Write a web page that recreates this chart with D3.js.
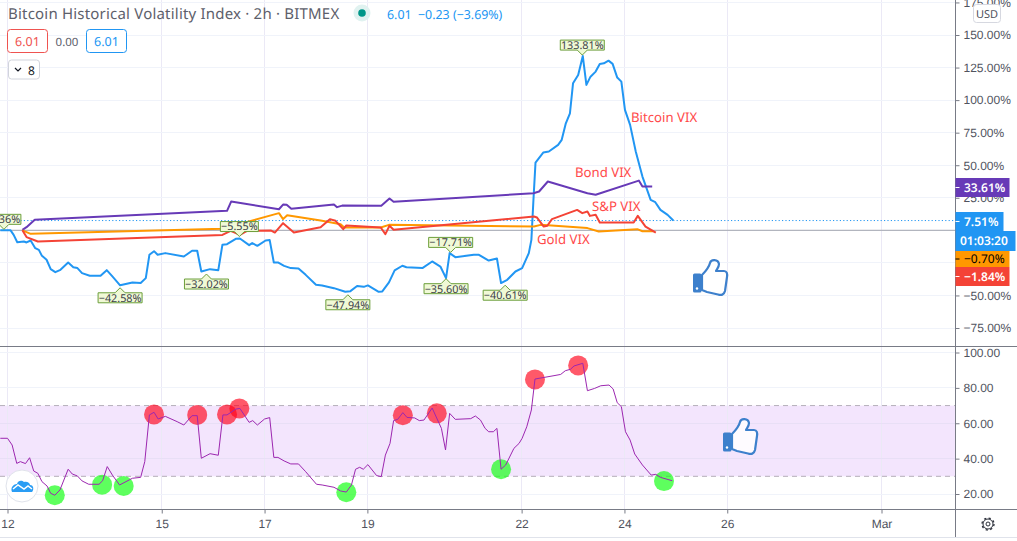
<!DOCTYPE html>
<html>
<head>
<meta charset="utf-8">
<script src="https://d3js.org/d3.v7.min.js"></script>
<style>
    html, body { margin: 0; padding: 0; background: #fff; overflow: hidden; }
    svg { display: block; font-family: "Noto Sans", sans-serif; }
    text { text-rendering: geometricPrecision; }
</style>
</head>
<body>
<div id="chart"></div>
<script>
// [day of February, percent]
const bitcoinVix = [[11.86,0],[12.06,0],[12.12,-3.5],[12.19,-9.1],[12.32,-8.6],[12.37,-9.3],[12.45,-7.8],[12.54,-13.7],[12.61,-15],[12.67,-19.6],[12.76,-22.6],[12.84,-29.8],[12.93,-32.1],[13.03,-30.3],[13.18,-24.7],[13.28,-28.3],[13.36,-29],[13.45,-32.9],[13.6,-34.9],[13.81,-34.9],[13.93,-30.6],[14.04,-35.4],[14.19,-42.2],[14.43,-40],[14.59,-40.5],[14.69,-36.7],[14.76,-18.8],[14.85,-16],[14.92,-18.8],[15.07,-17.5],[15.43,-20.1],[15.59,-15.7],[15.69,-15.7],[15.77,-31.6],[15.94,-29.8],[16.1,-30.6],[16.18,-11.1],[16.27,-10.6],[16.44,-6.5],[16.52,-6.3],[16.7,-11.4],[16.76,-9.8],[16.86,-11.9],[17.02,-7.8],[17.1,-7.5],[17.18,-24.7],[17.26,-24.7],[17.38,-27.3],[17.51,-29],[17.66,-29.3],[17.8,-34.2],[18,-41.8],[18.12,-42.3],[18.35,-44.4],[18.57,-47.2],[18.67,-46.7],[18.8,-42.8],[18.93,-43.4],[19.01,-42.3],[19.22,-47.2],[19.29,-46.9],[19.42,-40],[19.53,-30.8],[19.68,-27.2],[19.76,-28.3],[20.07,-29],[20.26,-23.9],[20.42,-27.8],[20.53,-36.7],[20.6,-17.5],[20.71,-20.6],[21.07,-18.8],[21.17,-18.8],[21.36,-23.2],[21.52,-21.6],[21.6,-40.5],[21.72,-38],[21.88,-31.6],[22.01,-29],[22.14,-17.5],[22.19,-7.3],[22.23,23.4],[22.27,52],[22.42,59.7],[22.53,60.5],[22.71,65.6],[22.78,69.5],[22.86,82.2],[22.94,89.9],[23,112.9],[23.1,119.3],[23.19,133.8],[23.26,111.7],[23.34,118],[23.44,121.9],[23.52,127.8],[23.6,128.3],[23.69,130.3],[23.77,127.8],[23.86,117.3],[23.94,114.2],[24.01,92.5],[24.11,81],[24.22,60.5],[24.35,41.3],[24.51,23.4],[24.6,21.6],[24.7,15.7],[24.84,11.9],[24.95,7.51]];
const bondVix = [[12.29,0.4],[12.37,2.4],[12.53,8.1],[16.27,15],[16.35,22.1],[17.28,16.2],[17.36,19.8],[17.43,19.6],[17.52,16.5],[18.35,19.8],[18.41,17.8],[18.51,19],[19.27,18.8],[19.43,24.4],[19.51,21.9],[22.23,28.5],[22.34,29.8],[22.51,37.5],[23.28,28.5],[23.44,27.3],[24.28,38.2],[24.35,33.7],[24.54,33.61]];
const goldVix = [[12.29,0],[12.45,-2.7],[16.18,1.2],[17.28,13.2],[17.36,8.6],[17.44,11.6],[18.09,7.5],[18.48,4.7],[18.55,2.2],[19.26,2.2],[19.42,4.2],[22.24,2.9],[22.37,4.2],[23.28,1.7],[23.5,-0.9],[24.25,0.9],[24.35,-0.7],[24.57,-0.7]];
const spVix = [[12.29,0],[12.37,-5.2],[12.59,-8.6],[16.18,-3.5],[16.34,-0.4],[16.52,-3.5],[16.66,-0.4],[17.12,-0.1],[17.2,-1.7],[17.36,5.5],[17.57,-1.7],[18.09,2.4],[18.27,8.6],[18.38,7.3],[18.53,0.9],[18.59,3.7],[19.26,2.2],[19.35,-2.9],[19.43,3.5],[19.51,0.4],[22.24,10.6],[22.3,9.8],[22.43,2.9],[22.5,3.5],[22.59,8.6],[23.08,15.7],[23.18,13.2],[23.28,14.5],[23.33,11.1],[23.44,11.9],[23.52,6],[24.18,6],[24.26,11.1],[24.41,2.9],[24.61,-1.84]];
const rsi = [[11.86,51.5],[12,51.5],[12.09,47.7],[12.18,37.3],[12.25,38.3],[12.35,37.2],[12.43,40.5],[12.51,33],[12.59,31.7],[12.67,27],[12.77,24.5],[12.84,20.4],[12.92,19.3],[13.02,22.3],[13.18,34],[13.26,31.3],[13.36,30.2],[13.45,27.4],[13.58,25.5],[13.78,25.5],[13.85,27.5],[13.94,35.5],[14.04,30.7],[14.18,25.1],[14.43,28.9],[14.59,29.4],[14.67,38.3],[14.76,64.7],[14.85,66.2],[14.93,62.4],[15.07,63.9],[15.3,60.9],[15.43,59],[15.59,64.3],[15.69,64.3],[15.77,40.2],[15.94,42.8],[16.1,41.9],[16.19,64.7],[16.27,64.7],[16.44,68],[16.52,68.4],[16.7,60.5],[16.77,61.5],[16.86,59],[17,62.4],[17.1,63.2],[17.18,40.7],[17.26,40.7],[17.38,38.7],[17.51,37],[17.66,37],[17.8,32.6],[18.01,25.5],[18.12,25.1],[18.35,23.8],[18.48,21.7],[18.59,21.1],[18.69,25.1],[18.77,34],[18.85,35.1],[18.92,34],[19.01,36.6],[19.18,30.4],[19.27,29.8],[19.35,42],[19.44,48.6],[19.51,61.5],[19.59,62.2],[19.69,66],[19.77,63.3],[19.92,63],[20.01,61.5],[20.1,61.8],[20.26,68.6],[20.44,57.1],[20.52,44.9],[20.6,65.6],[20.71,62.2],[21.01,62.6],[21.1,64.1],[21.2,61.8],[21.29,57.1],[21.36,55.2],[21.45,55.2],[21.52,57.1],[21.6,34],[21.69,36.4],[21.85,45.8],[21.95,48.6],[22.01,51.5],[22.1,58],[22.19,67.5],[22.26,85],[22.63,86.9],[22.76,87.6],[22.85,89.7],[22.95,90.5],[23.02,92.4],[23.19,93.9],[23.28,78.4],[23.42,79.7],[23.54,81.2],[23.7,81.6],[23.78,79.4],[23.86,71.6],[23.94,69.4],[24.02,55.2],[24.11,50.5],[24.2,42.6],[24.35,36.4],[24.52,30.7],[24.61,31.1],[24.7,29.4],[24.93,27.5]];
const oversold = [[12.92,19.3],[13.84,25.3],[14.26,24.5],[18.59,21],[21.6,34],[24.77,27.3]];
const overbought = [[14.85,65],[15.69,64.7],[16.27,65],[16.51,68.4],[19.69,64.5],[20.35,65.6],[22.26,84.8],[23.1,92.7]];
// [day, percent, text, side of the point]
const pivots = [[11.93,0,"−0.36%","up"],[14.19,-42.58,"−42.58%","down"],[15.87,-32.02,"−32.02%","down"],[16.51,-5.55,"−5.55%","up"],[18.62,-47.94,"−47.94%","down"],[20.53,-35.6,"−35.60%","down"],[20.62,-17.71,"−17.71%","up"],[21.68,-40.61,"−40.61%","down"],[23.18,133.81,"133.81%","up"]];
const priceTicks = [175,150,125,100,75,50,25,0,-25,-50,-75];
const rsiTicks = [100,80,60,40,20];
const dayTicks = [12,15,17,19,22,24,26,29];
const dayLabels = ["12","15","17","19","22","24","26","Mar"];

const width = 1017, height = 541, axisX = 955.5;
const paneBottom = 346.5, timeY = 509.5;

const x = d3.scaleLinear().domain([12, 29]).range([7.5, 881.5]);
const y = d3.scaleLinear().domain([-75, 150]).range([328, 35]);
const yRsi = d3.scaleLinear().domain([20, 100]).range([494, 352.5]);

const svg = d3.select("#chart").append("svg").attr("width", width).attr("height", height);

const defs = svg.append("defs");
defs.append("clipPath").attr("id", "plot").append("rect").attr("width", axisX).attr("height", height);

const GRID = "#f0f3fa", TEXT = "#50535e", AXIS = "#787b86";

// RSI band
svg.append("rect")
    .attr("x", 0).attr("width", axisX)
    .attr("y", yRsi(70)).attr("height", yRsi(30) - yRsi(70))
    .attr("fill", "#f3e5fd");

// Grid
const grid = svg.append("g").attr("stroke", GRID).attr("shape-rendering", "crispEdges");
dayTicks.forEach(d => {
    grid.append("line").attr("x1", x(d)).attr("x2", x(d)).attr("y1", 0).attr("y2", timeY)
        .attr("stroke", "#ebe9f6");
});
priceTicks.forEach(d => {
    grid.append("line").attr("x1", 0).attr("x2", axisX).attr("y1", y(d)).attr("y2", y(d));
});
rsiTicks.forEach(d => {
    grid.append("line").attr("x1", 0).attr("x2", axisX).attr("y1", yRsi(d)).attr("y2", yRsi(d))
        .attr("stroke", d === 60 || d === 40 ? "#e8dff6" : GRID);
});
[70, 30].forEach(d => {
    svg.append("line")
        .attr("x1", 0).attr("x2", axisX).attr("y1", yRsi(d)).attr("y2", yRsi(d))
        .attr("stroke", "#b5afba").attr("stroke-dasharray", "5 4");
});

// Current value and zero lines
svg.append("line")
    .attr("x1", 0).attr("x2", axisX).attr("y1", y(7.51)).attr("y2", y(7.51))
    .attr("stroke", "#2196f3").attr("stroke-dasharray", "1.2 2.2");
svg.append("line")
    .attr("x1", 0).attr("x2", axisX).attr("y1", y(0)).attr("y2", y(0))
    .attr("stroke", "#b2b5be").attr("stroke-width", 1.2);

// Series
const priceLine = d3.line().x(d => x(d[0])).y(d => y(d[1]));
const rsiLine = d3.line().x(d => x(d[0])).y(d => yRsi(d[1]));
const plot = svg.append("g").attr("clip-path", "url(#plot)");

[[bitcoinVix, "#2196f3"], [bondVix, "#673ab7"], [goldVix, "#ff9800"], [spVix, "#f44336"]].forEach(s => {
    plot.append("path")
        .attr("d", priceLine(s[0]))
        .attr("fill", "none")
        .attr("stroke", s[1])
        .attr("stroke-width", 2)
        .attr("stroke-linejoin", "round");
});

plot.selectAll(".sell").data(overbought).join("circle")
    .attr("class", "sell")
    .attr("cx", d => x(d[0])).attr("cy", d => yRsi(d[1])).attr("r", 10)
    .attr("fill", "#ff0019").attr("opacity", 0.65);
plot.selectAll(".buy").data(oversold).join("circle")
    .attr("class", "buy")
    .attr("cx", d => x(d[0])).attr("cy", d => yRsi(d[1])).attr("r", 10)
    .attr("fill", "#19ff19").attr("opacity", 0.7);

plot.append("path")
    .attr("d", rsiLine(rsi))
    .attr("fill", "none")
    .attr("stroke", "#9c27b0")
    .attr("stroke-width", 1);

// High / low pins
const pins = plot.selectAll(".pin").data(pivots).join("g")
    .attr("class", "pin")
    .attr("transform", d => `translate(${x(d[0])},${y(d[1]) + (d[3] === "up" ? -1 : 2)})`);
pins.append("path")
    .attr("d", d => {
        const w = d[2].length > 6 ? 22 : 19;
        const s = d[3] === "up" ? -1 : 1;
        const off = d[0] < 12 ? -2 : 0;
        return `M0,0L5,${s * 5}L${w + off},${s * 5}L${w + off},${s * 15}L${-w + off},${s * 15}L${-w + off},${s * 5}L-5,${s * 5}Z`;
    })
    .attr("fill", "#f0f9d6")
    .attr("stroke", "#6b9e3a")
    .attr("stroke-width", 1);
pins.append("text")
    .attr("x", d => d[0] < 12 ? -2 : 0)
    .attr("y", d => d[3] === "up" ? -6.2 : 14)
    .attr("text-anchor", "middle")
    .attr("font-size", 10.8)
    .attr("fill", "#3a3d46")
    .text(d => d[2]);

// Drawn notes
const notes = svg.append("g").attr("fill", "#ff4a4a").attr("font-size", 13.2);
[["Bitcoin VIX", 631, 122], ["Bond VIX", 575, 177], ["S&P VIX", 592, 211], ["Gold VIX", 537, 244]].forEach(n => {
    notes.append("text").attr("x", n[1]).attr("y", n[2]).text(n[0]);
});

const thumb = "M9,16 C12,13 16,8 17,4 C18,0 25,0 26,5 C26,8 24,10 23,12 L31,12 C34,12 34.5,15 34,18 L32,32 C31,36 28,36.5 25,35.5 L14,33 L9,31Z";
[[693, 259], [723, 418]].forEach(p => {
    const g = svg.append("g").attr("transform", `translate(${p[0]},${p[1]})`);
    g.append("path").attr("d", thumb).attr("fill", "#fff").attr("fill-opacity", 0.85)
        .attr("stroke", "#3d80cc").attr("stroke-width", 2.2).attr("stroke-linejoin", "round");
    g.append("rect").attr("x", 0).attr("y", 14.5).attr("width", 8.5).attr("height", 19).attr("rx", 1.5).attr("fill", "#3d80cc");
    g.append("circle").attr("cx", 4).attr("cy", 29.5).attr("r", 1.2).attr("fill", "#fff");
});

// Logo
const logo = svg.append("g").attr("transform", "translate(22,486)");
logo.append("circle").attr("r", 16).attr("fill", "#fff").attr("stroke", "#e0e3eb").attr("stroke-width", 1);
logo.append("path")
    .attr("d", "M-10,6 C-12,1 -8,-2 -5,-2 C-4,-6 0,-6 2,-4 C5,-5 8,-3 8,-1 C12,-1 12,4 10,6Z")
    .attr("fill", "#2a9df4");
logo.append("path")
    .attr("d", "M-9,3 L-4,-1 L2,3 L6,0 L10,3")
    .attr("fill", "none").attr("stroke", "#fff").attr("stroke-width", 1.5);

// Axes
const tickStyle = g => {
    g.selectAll(".domain").remove();
    g.selectAll("line").attr("stroke", AXIS);
    g.selectAll("text").attr("fill", TEXT).attr("font-family", "inherit");
};
svg.append("g")
    .attr("transform", `translate(${axisX},0)`)
    .call(d3.axisRight(y).tickValues(priceTicks).tickSize(4).tickPadding(4)
        .tickFormat(d => d === 0 || d === -25 ? "" : (d < 0 ? "−" + (-d).toFixed(2) : d.toFixed(2)) + "%"))
    .attr("font-size", 12)
    .call(tickStyle);
svg.append("g")
    .attr("transform", `translate(${axisX},0)`)
    .call(d3.axisRight(yRsi).tickValues(rsiTicks).tickSize(4).tickPadding(4).tickFormat(d => d.toFixed(2)))
    .attr("font-size", 12)
    .call(tickStyle);
svg.append("g")
    .attr("transform", `translate(0,${timeY})`)
    .call(d3.axisBottom(x).tickValues(dayTicks).tickSize(4).tickPadding(6).tickFormat((d, i) => dayLabels[i]))
    .attr("font-size", 12)
    .call(tickStyle);

// Pane borders
const borders = svg.append("g").attr("stroke", AXIS).attr("shape-rendering", "crispEdges");
borders.append("line").attr("x1", 0).attr("x2", width).attr("y1", paneBottom).attr("y2", paneBottom);
borders.append("line").attr("x1", 0).attr("x2", width).attr("y1", timeY).attr("y2", timeY);
borders.append("line").attr("x1", axisX).attr("x2", axisX).attr("y1", 0).attr("y2", 537);
svg.append("line").attr("x1", 0).attr("x2", width).attr("y1", 537.5).attr("y2", 537.5)
    .attr("stroke", "#e0e3eb");

// Last value tags
[
    ["33.61%", 178, 19, 54, "#673ab7", "#fff"],
    ["7.51%", 212, 19, 48, "#2196f3", "#fff"],
    ["01:03:20", 231, 20, 60, "#2196f3", "#fff"],
    ["−0.70%", 251, 16, 54, "#ff9800", "#000"],
    ["−1.84%", 267, 19, 54, "#f44336", "#fff"]
].forEach(t => {
    svg.append("rect").attr("x", axisX).attr("y", t[1]).attr("width", t[3]).attr("height", t[2]).attr("fill", t[4]);
    svg.append("text")
        .attr("x", t[0].includes(":") ? axisX + 4.5 : axisX + 8.5)
        .attr("y", t[1] + t[2] / 2 + 4.2)
        .attr("font-size", 12).attr("font-weight", t[5] === "#000" ? 400 : 600)
        .attr("fill", t[5]).text(t[0]);
    if (!t[0].includes(":")) {
        svg.append("line")
            .attr("x1", axisX).attr("x2", axisX + 4)
            .attr("y1", t[1] + t[2] / 2).attr("y2", t[1] + t[2] / 2)
            .attr("stroke", t[5]);
    }
});

// USD badge
svg.append("rect").attr("x", 973.5).attr("y", 4.5).attr("width", 27).attr("height", 18).attr("rx", 3)
    .attr("fill", "#fff").attr("stroke", "#d6d8e0");
svg.append("text").attr("x", 987).attr("y", 17.5).attr("text-anchor", "middle")
    .attr("font-size", 11).attr("fill", TEXT).text("USD");

// Settings gear
const gear = svg.append("g").attr("transform", "translate(988,524)").attr("fill", "none").attr("stroke", "#2a2e39");
gear.append("circle").attr("r", 2).attr("stroke-width", 1);
gear.append("circle").attr("r", 5).attr("stroke-width", 1);
gear.append("circle").attr("r", 6).attr("stroke-width", 1.3).attr("stroke-dasharray", "2.2 2.5");

// Header
svg.append("text").attr("x", 8).attr("y", 19).attr("font-size", 15).attr("letter-spacing", 0.2).attr("fill", "#5d606b")
    .text("Bitcoin Historical Volatility Index · 2h · BITMEX");
svg.append("circle").attr("cx", 362).attr("cy", 13).attr("r", 8.5).attr("fill", "#e0f2f0");
svg.append("circle").attr("cx", 362).attr("cy", 13).attr("r", 3.8).attr("fill", "#009688");
svg.append("text").attr("x", 387).attr("y", 19).attr("font-size", 12.4).attr("fill", "#2196f3")
    .attr("xml:space", "preserve").text("6.01  −0.23 (−3.69%)");

[[7.5, 40, "#ef5350"], [86.5, 40, "#2196f3"]].forEach(b => {
    svg.append("rect").attr("x", b[0]).attr("y", 29.5).attr("width", b[1]).attr("height", 23).attr("rx", 3)
        .attr("fill", "#fff").attr("stroke", b[2]);
    svg.append("text").attr("x", b[0] + b[1] / 2).attr("y", 46).attr("text-anchor", "middle")
        .attr("font-size", 12.5).attr("fill", b[2]).text("6.01");
});
svg.append("text").attr("x", 67).attr("y", 45.5).attr("text-anchor", "middle")
    .attr("font-size", 11.5).attr("fill", "#5d606b").text("0.00");
svg.append("rect").attr("x", 8.5).attr("y", 60).attr("width", 31).attr("height", 19).attr("rx", 3)
    .attr("fill", "#fff").attr("stroke", "#d1d4dc");
svg.append("path").attr("d", "M15,68 l3,3 l3,-3").attr("fill", "none").attr("stroke", "#131722").attr("stroke-width", 1.2);
svg.append("text").attr("x", 28).attr("y", 74.5).attr("font-size", 12).attr("fill", "#131722").text("8");
</script>
</body>
</html>
